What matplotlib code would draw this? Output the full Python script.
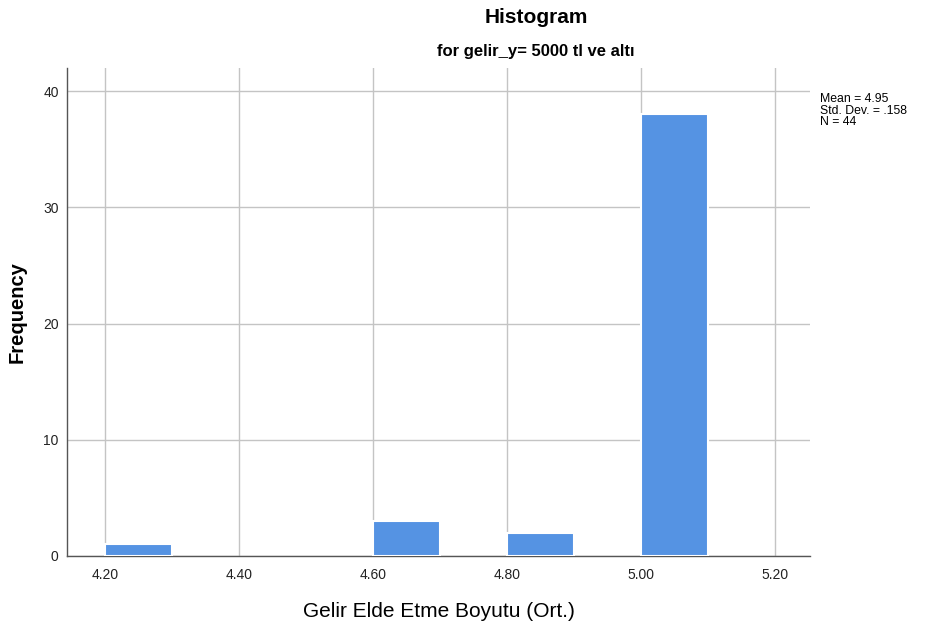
import matplotlib.pyplot as plt
import numpy as np

plt.rcParams["font.family"] = ["Liberation Sans", "DejaVu Sans"]

# histogram bins (left edges), width and frequencies
bin_left = [4.20, 4.60, 4.80, 5.00]
bin_width = 0.1
counts = [1, 3, 2, 38]
x_ticks = [4.20, 4.40, 4.60, 4.80, 5.00, 5.20]
y_ticks = [0, 10, 20, 30, 40]
stats = ["Mean = 4.95", "Std. Dev. = .158", "N = 44"]

fig = plt.figure(figsize=(9.25, 6.24), dpi=100, facecolor="white")
ax = fig.add_axes([0.0724, 0.109, 0.8033, 0.782])

ax.grid(True, color="#c4c4c4", linewidth=1.0)
ax.set_axisbelow(True)
ax.bar(bin_left, counts, width=bin_width, align="edge",
       color="#5593e3", edgecolor="white", linewidth=1.5, zorder=3)

ax.set_xlim(4.143, 5.252)
ax.set_ylim(0, 42)
ax.set_xticks(x_ticks)
ax.set_xticklabels([f"{t:.2f}" for t in x_ticks])
ax.set_yticks(y_ticks)
ax.tick_params(axis="both", labelsize=10, length=0, colors="#222222")
ax.tick_params(axis="x", pad=9)
ax.tick_params(axis="y", pad=6)

for s in ["top", "right"]:
    ax.spines[s].set_visible(False)
for s in ["left", "bottom"]:
    ax.spines[s].set_color("#555555")
    ax.spines[s].set_linewidth(1.0)

ax.set_xlabel("Gelir Elde Etme Boyutu (Ort.)", fontsize=15, labelpad=14)
ax.set_ylabel("Frequency", fontsize=14.5, fontweight="bold", labelpad=12)

fig.text(0.5795, 0.972, "Histogram", ha="center", va="center",
         fontsize=15, fontweight="bold")
fig.text(0.5795, 0.917, "for gelir_y= 5000 tl ve altı", ha="center",
         va="center", fontsize=12, fontweight="bold")

fig.text(0.886, 0.851, "\n".join(stats), ha="left", va="top",
         fontsize=8.8, linespacing=0.95)

plt.savefig("out.png", dpi=100)
